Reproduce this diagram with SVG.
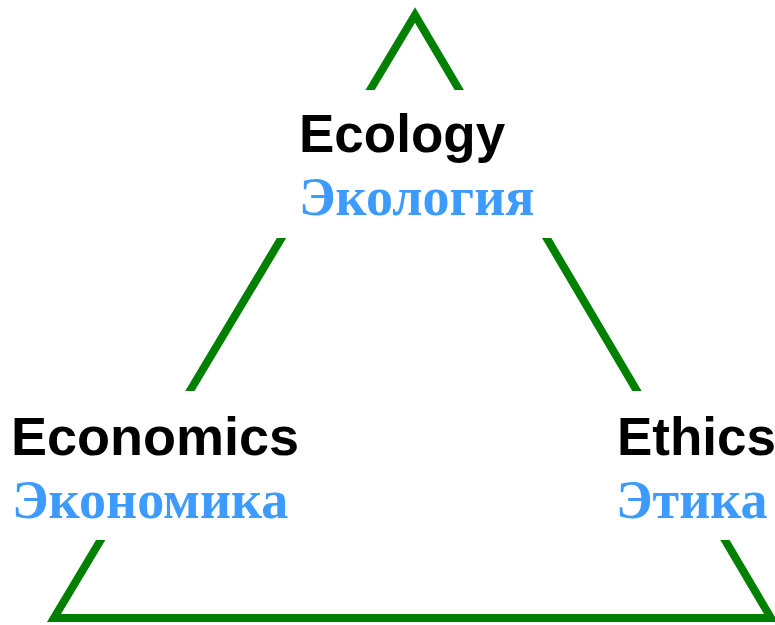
<svg xmlns="http://www.w3.org/2000/svg" width="775" height="625" viewBox="0 0 775 625">
<style>
.edge{stroke:#008000;stroke-width:8;fill:none;stroke-linejoin:miter}
.mask{fill:#ffffff}
.en{font-family:"Liberation Sans",Arial,sans-serif;font-weight:bold;font-size:53px;fill:#000000}
.ru{font-family:"Liberation Serif","Times New Roman",serif;font-weight:bold;font-size:54px;fill:#3d9bff}
</style>
<rect width="775" height="625" fill="#ffffff"/>
<g id="connectors">
<polygon class="edge" points="415,15 771,618 54,618"/>
</g>
<g id="ecology">
<rect class="mask" x="260" y="90" width="305" height="148"/>
<text class="en" x="299" y="152">Ecology</text>
<text class="ru" x="299" y="215">Экология</text>
</g>
<g id="economics">
<rect class="mask" x="8" y="391" width="300" height="149"/>
<text class="en" x="11" y="455" style="font-size:54px">Economics</text>
<text class="ru" x="12" y="518">Экономика</text>
</g>
<g id="ethics">
<rect class="mask" x="610" y="391" width="165" height="149"/>
<text class="en" x="617" y="455">Ethics</text>
<text class="ru" x="616" y="518">Этика</text>
</g>
</svg>
